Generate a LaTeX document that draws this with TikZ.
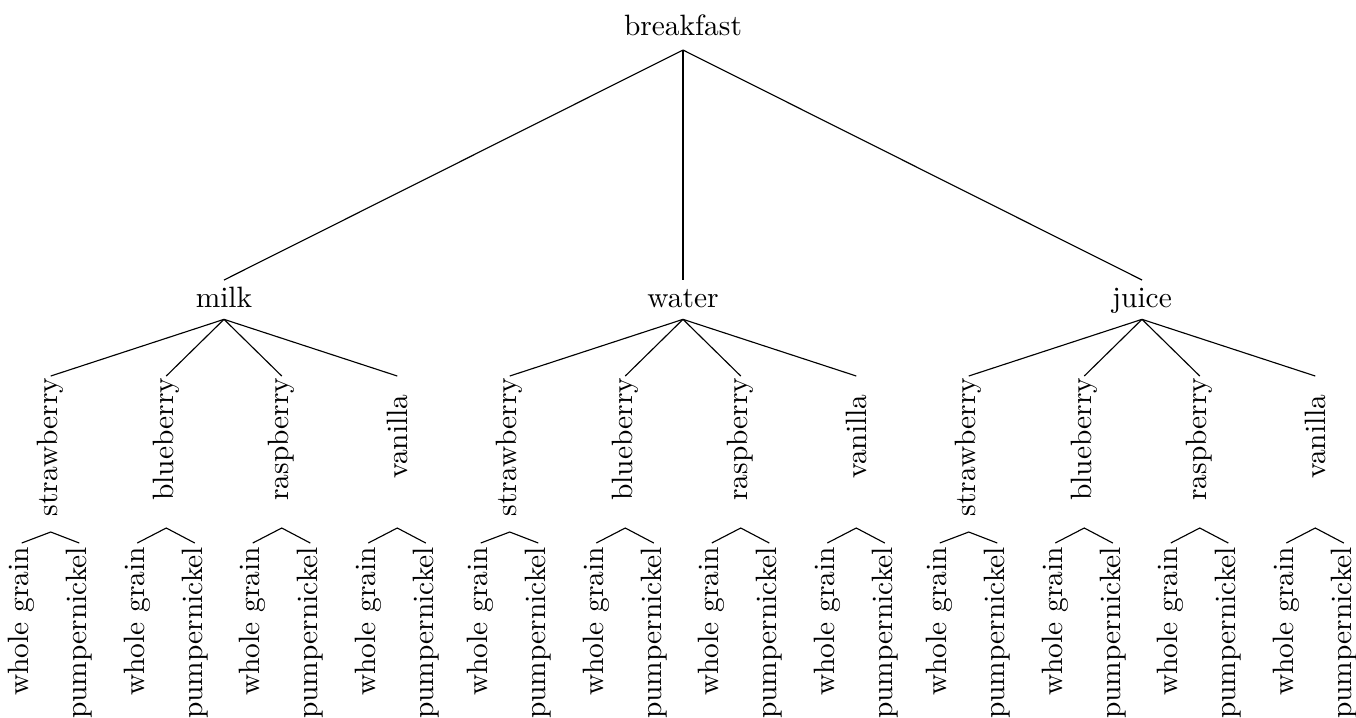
\documentclass[tikz,border=0pt]{standalone}
\begin{document}
\begin{tikzpicture}[x=0.3534pt,y=-0.3534pt,
  every node/.style={font=\fontsize{10.4pt}{12.5pt}\selectfont},
  rootnode/.style={inner xsep=2pt, inner ysep=3.4pt, text height=7.2pt, text depth=1.5pt, anchor=south},
  drinknode/.style={inner xsep=2pt, inner ysep=2.4pt, text height=7.2pt, text depth=1.5pt, anchor=north},
  flavournode/.style={rotate=90, anchor=east, inner xsep=0.4pt, inner ysep=2pt, minimum width=42.4pt},
  breadnode/.style={rotate=90, anchor=east, inner xsep=1.2pt, inner ysep=2pt},
  treeedge/.style={draw=black, line width=0.4pt}]
\useasboundingbox (0,0) rectangle (1356,717);
\node[rootnode] (breakfast) at (683,50) {breakfast};
\foreach \p/\px in {milk/224, water/683, juice/1142}{
  \node[drinknode] (\p) at (\px,280) {\p};
  \draw[treeedge] (breakfast.south) -- (\p.north);
  \foreach \f/\ay [count=\i] in {strawberry/532, blueberry/528, raspberry/528, vanilla/528}{
    \pgfmathsetmacro{\fx}{\px+(\i-2.5)*115.5}
    \node[flavournode] (\p-\i) at (\fx,376) {\f};
    \draw[treeedge] (\p.south) -- (\p-\i.east);
    \coordinate (\p-\i-b) at (\fx,\ay);
    \node[breadnode] (\p-\i-w) at ({\fx-29},543) {whole grain};
    \node[breadnode] (\p-\i-p) at ({\fx+28.5},543) {pumpernickel};
    \draw[treeedge] (\p-\i-w.east) -- (\p-\i-b) -- (\p-\i-p.east);
  }
}
\end{tikzpicture}
\end{document}
